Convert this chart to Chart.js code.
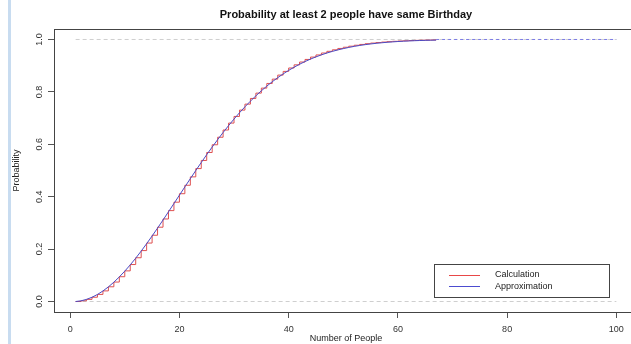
<!DOCTYPE html>
<html>
<head>
<meta charset="utf-8">
<title>Birthday problem</title>
<script src="https://cdn.jsdelivr.net/npm/chart.js@4.4.1/dist/chart.umd.min.js"></script>
<style>
  html, body { margin: 0; padding: 0; background: #fff; overflow: hidden; width: 631px; height: 344px; }
  #wrap { position: relative; width: 660px; height: 344px; }
  #stripe { position: absolute; left: 8px; top: 0; width: 3px; height: 344px; background: #c8dcf0; }
</style>
</head>
<body>
<div id="wrap">
  <canvas id="birthdayChart" width="660" height="344"></canvas>
  <div id="stripe"></div>
</div>
<script>
// number of people in the room
const people = [1, 2, 3, 4, 5, 6, 7, 8, 9, 10, 11, 12, 13, 14, 15, 16, 17, 18, 19, 20,
  21, 22, 23, 24, 25, 26, 27, 28, 29, 30, 31, 32, 33, 34, 35, 36, 37, 38, 39, 40,
  41, 42, 43, 44, 45, 46, 47, 48, 49, 50, 51, 52, 53, 54, 55, 56, 57, 58, 59, 60,
  61, 62, 63, 64, 65, 66, 67];

// exact calculation (drawn as steps)
const calcProb = [0, 0.0027, 0.0082, 0.0164, 0.0271, 0.0405, 0.0562, 0.0743, 0.0946, 0.1169,
  0.1411, 0.1670, 0.1944, 0.2231, 0.2529, 0.2836, 0.3150, 0.3469, 0.3791, 0.4114,
  0.4437, 0.4757, 0.5073, 0.5383, 0.5687, 0.5982, 0.6269, 0.6545, 0.6810, 0.7063,
  0.7305, 0.7533, 0.7750, 0.7953, 0.8144, 0.8322, 0.8487, 0.8641, 0.8782, 0.8912,
  0.9032, 0.9140, 0.9239, 0.9329, 0.9410, 0.9483, 0.9548, 0.9606, 0.9658, 0.9704,
  0.9744, 0.9780, 0.9811, 0.9839, 0.9863, 0.9883, 0.9901, 0.9917, 0.9930, 0.9941,
  0.9951, 0.9959, 0.9966, 0.9972, 0.9977, 0.9981, 0.9984];

// approximation
const approxProb = [0, 0.0027, 0.0082, 0.0163, 0.0270, 0.0403, 0.0559, 0.0738, 0.0939, 0.1160,
  0.1399, 0.1654, 0.1924, 0.2207, 0.2500, 0.2802, 0.3110, 0.3424, 0.3740, 0.4058,
  0.4375, 0.4689, 0.5000, 0.5305, 0.5604, 0.5895, 0.6177, 0.6450, 0.6712, 0.6963,
  0.7203, 0.7431, 0.7646, 0.7850, 0.8041, 0.8220, 0.8387, 0.8543, 0.8687, 0.8820,
  0.8942, 0.9055, 0.9158, 0.9251, 0.9336, 0.9413, 0.9483, 0.9545, 0.9601, 0.9651,
  0.9696, 0.9736, 0.9771, 0.9802, 0.9829, 0.9853, 0.9874, 0.9892, 0.9908, 0.9922,
  0.9934, 0.9944, 0.9953, 0.9960, 0.9967, 0.9972, 0.9977];

// dashed guide lines
const guideX = [1, 100];
const guideLevels = [0, 1];
const tailX = [67, 100];

const xTicks = [0, 20, 40, 60, 80, 100];
const yTicks = [0, 0.2, 0.4, 0.6, 0.8, 1.0];
const yTickLabels = ["0.0", "0.2", "0.4", "0.6", "0.8", "1.0"];

const seriesNames = ["Calculation", "Approximation"];
const chartTitle = "Probability at least 2 people have same Birthday";

const FONT = "'Liberation Sans', Arial, sans-serif";
const redLine = "#de5050";
const blueLine = "#4a4ac4";
const legendColors = ["#e84848", "#4c4cd0"];

function toPoints(xs, ys) {
  return xs.map((x, i) => ({ x: x, y: ys[i] }));
}

const datasets = [
  {
    label: seriesNames[0],
    data: toPoints(people, calcProb),
    borderColor: redLine,
    borderWidth: 1,
    stepped: "before",
    pointRadius: 0,
    order: 2
  },
  {
    label: seriesNames[1],
    data: toPoints(people, approxProb),
    borderColor: blueLine,
    borderWidth: 1,
    pointRadius: 0,
    order: 1
  }
];

guideLevels.forEach(level => {
  datasets.push({
    label: "guide",
    data: toPoints(guideX, [level, level]),
    borderColor: "#cfcfcf",
    borderWidth: 1,
    borderDash: [4, 3],
    pointRadius: 0,
    order: 5
  });
});

datasets.push({
  label: "tail",
  data: toPoints(tailX, [1, 1]),
  borderColor: "#7c7ce6",
  borderWidth: 1,
  borderDash: [3, 3],
  pointRadius: 0,
  order: 4
});

// box, title, rotated y labels and the legend, R style
const rDecor = {
  id: "rDecor",
  afterDraw(chart) {
    const ctx = chart.ctx;
    const a = chart.chartArea;
    const yScale = chart.scales.y;
    ctx.save();

    ctx.strokeStyle = "#444";
    ctx.lineWidth = 1;
    ctx.strokeRect(Math.round(a.left) + 0.5, Math.round(a.top) + 0.5,
      Math.round(a.right - a.left), Math.round(a.bottom - a.top));

    ctx.fillStyle = "#111";
    ctx.font = "bold 11px " + FONT;
    ctx.textAlign = "center";
    ctx.textBaseline = "middle";
    ctx.fillText(chartTitle, (a.left + a.right) / 2, 15);

    ctx.font = "9px " + FONT;
    ctx.fillStyle = "#333";
    yTicks.forEach((v, i) => {
      const py = yScale.getPixelForValue(v);
      ctx.save();
      ctx.translate(40, py);
      ctx.rotate(-Math.PI / 2);
      ctx.fillText(yTickLabels[i], 0, 0);
      ctx.restore();
    });

    // legend
    const lx = 434, ly = 264, lw = 175, lh = 33;
    ctx.strokeStyle = "#444";
    ctx.strokeRect(lx + 0.5, ly + 0.5, lw, lh);
    ctx.textAlign = "left";
    ctx.font = "9px " + FONT;
    seriesNames.forEach((name, i) => {
      const yy = ly + 10.5 + i * 11.5;
      ctx.strokeStyle = legendColors[i];
      ctx.lineWidth = 1;
      ctx.beginPath();
      ctx.moveTo(449, Math.round(yy) + 0.5);
      ctx.lineTo(480, Math.round(yy) + 0.5);
      ctx.stroke();
      ctx.fillStyle = "#222";
      ctx.fillText(name, 495, yy + 0.5);
    });

    ctx.restore();
  }
};

new Chart(document.getElementById("birthdayChart"), {
  type: "line",
  data: { datasets: datasets },
  options: {
    responsive: false,
    animation: false,
    devicePixelRatio: 1,
    layout: { padding: { top: 29, right: 22, left: 0, bottom: 0 } },
    plugins: {
      legend: { display: false },
      tooltip: { enabled: false },
      title: { display: false }
    },
    scales: {
      x: {
        type: "linear",
        min: -2.96,
        max: 103.96,
        afterBuildTicks: scale => { scale.ticks = xTicks.map(v => ({ value: v })); },
        afterFit: scale => { scale.height = 32; },
        border: { display: false },
        grid: { drawOnChartArea: false, drawTicks: true, tickLength: 6, color: "#555" },
        ticks: { color: "#333", font: { family: FONT, size: 9 }, padding: 6, maxRotation: 0 },
        title: { display: true, text: "Number of People", color: "#222", font: { family: FONT, size: 9 }, padding: { top: 0, bottom: 0 } }
      },
      y: {
        type: "linear",
        min: -0.04,
        max: 1.04,
        afterBuildTicks: scale => { scale.ticks = yTicks.map(v => ({ value: v })); },
        afterFit: scale => { scale.width = 54; },
        border: { display: false },
        grid: { drawOnChartArea: false, drawTicks: true, tickLength: 6, color: "#555" },
        ticks: { display: false },
        title: { display: true, text: "Probability", color: "#222", font: { family: FONT, size: 9 }, padding: { top: 11, bottom: 0 } }
      }
    }
  },
  plugins: [rDecor]
});
</script>
</body>
</html>
